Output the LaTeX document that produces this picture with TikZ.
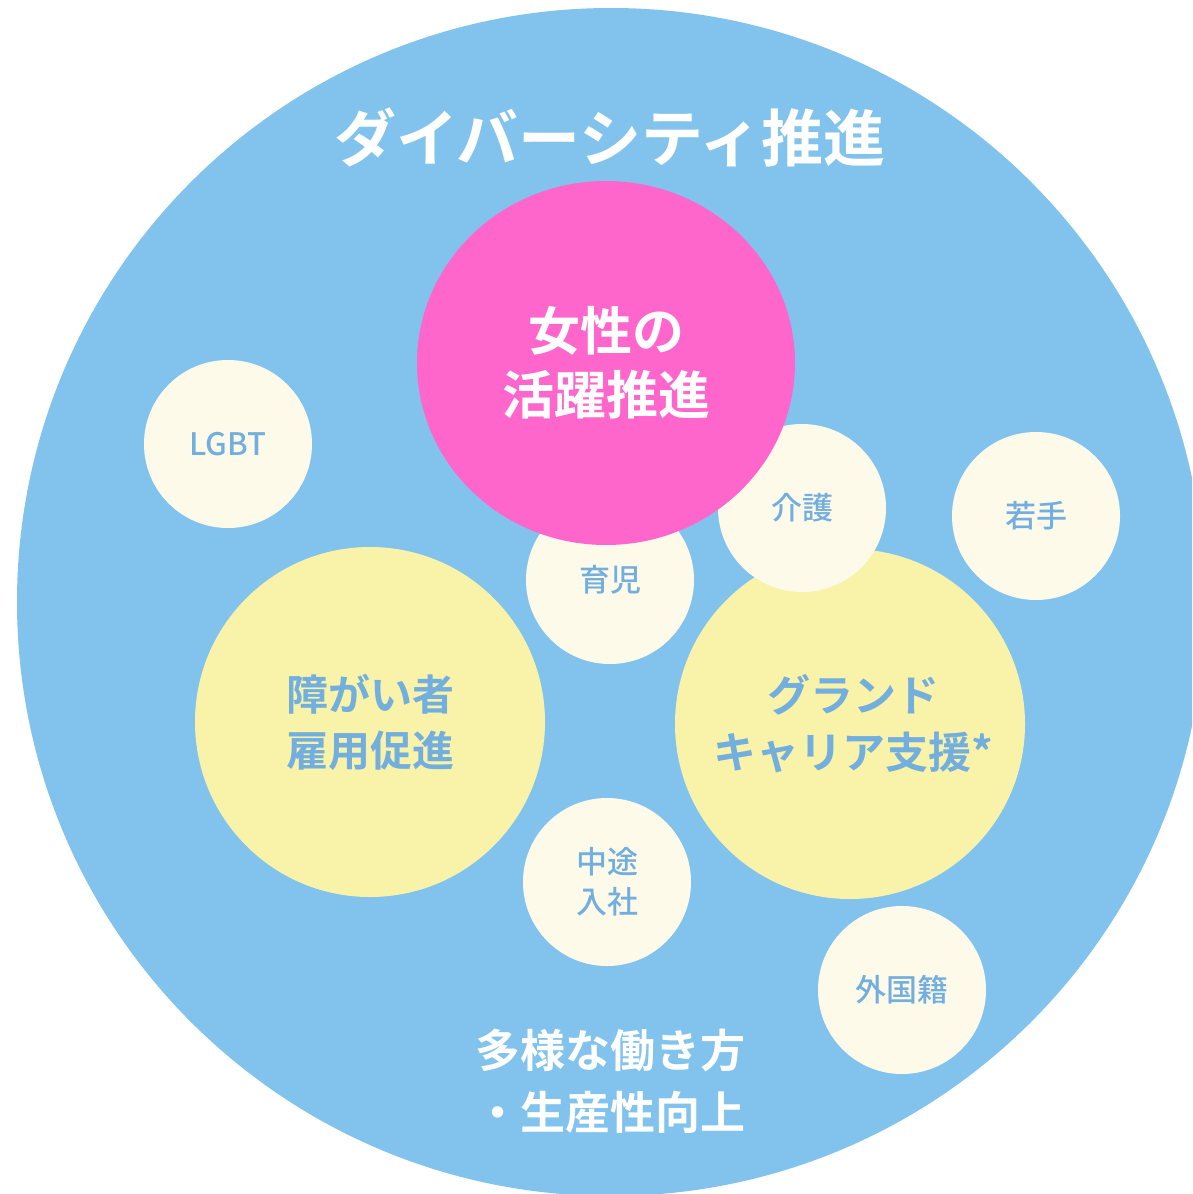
\documentclass[tikz,border=0pt]{standalone}
\usepackage{fontspec}
\usetikzlibrary{shapes.geometric}
\setmainfont{Noto Sans CJK JP}
\newfontfamily\jpb{Noto Sans CJK JP Bold}
\newfontfamily\jpm{Noto Sans CJK JP Medium}
\definecolor{bigblue}{HTML}{82C3EE}
\definecolor{pinkc}{HTML}{FF66CC}
\definecolor{yellowc}{HTML}{F9F3A9}
\definecolor{creamc}{HTML}{FEFAEA}
\definecolor{txtblue}{HTML}{72AEDE}
\begin{document}
\begin{tikzpicture}[x=1pt,y=-1pt,
  bigtxt/.style={text=white,font=\jpb,align=center},
  small/.style={circle,fill=creamc,minimum size=168pt,inner sep=0pt,text=txtblue,font=\jpm\fontsize{31}{40}\selectfont,align=center},
  large/.style={circle,fill=yellowc,minimum size=350pt,inner sep=0pt}]
\useasboundingbox (0,0) rectangle (1192,1194);
\clip (0,0) rectangle (1192,1194);
\fill[white] (0,0) rectangle (1192,1194);
\node[circle,fill=bigblue,minimum size=1188pt,inner sep=0pt] (outer) at (611,602) {};
\node[bigtxt,font=\jpb\fontsize{62}{62}\selectfont] (title) at (610,137) {ダイバーシティ推進};
\node[large] (shogai) at (370,722) {};
\node[text=txtblue,font=\jpb\fontsize{42}{56}\selectfont,align=center] (shogaitxt) at (shogai.center) {障がい者\\雇用促進};
\node[large] (grand) at (850,724) {};
\node[text=txtblue,font=\jpb\fontsize{43}{57}\selectfont,align=center] (grandtxt) at ([xshift=3pt]grand.center) {グランド\\キャリア支援*};
\node[small] (lgbt) at (228,444) {LGBT};
\node[small] (kaigo) at (802,508) {介護};
\node[small] (wakate) at (1036,516) {若手};
\node[small] (ikuji) at (610,580) {育児};
\node[small] (chuto) at (607,882) {中途\\入社};
\node[small] (gaikoku) at (902,990) {外国籍};
\node[ellipse,fill=pinkc,minimum width=378pt,minimum height=364pt,inner sep=0pt] (josei) at (606,363) {};
\node[text=white,font=\jpb\fontsize{52}{64}\selectfont,align=center] (joseitxt) at (josei.center) {女性の\\活躍推進};
\node[bigtxt,font=\jpb\fontsize{45}{62}\selectfont] (tayo) at (610,1081) {多様な働き方\\・生産性向上};
\end{tikzpicture}
\end{document}
